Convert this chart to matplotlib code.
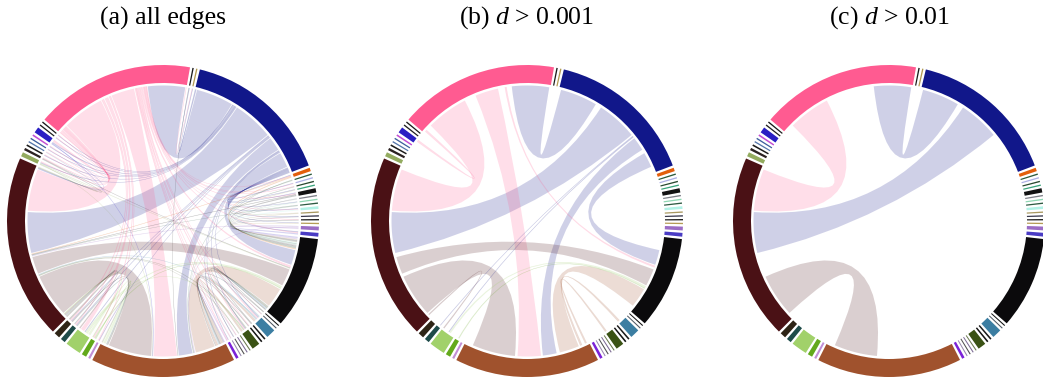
import numpy as np
import matplotlib
matplotlib.use("Agg")
import matplotlib.pyplot as plt
from matplotlib.colors import to_rgba
from matplotlib.patches import Wedge, PathPatch
from matplotlib.path import Path

plt.rcParams["mathtext.fontset"] = "custom"
plt.rcParams["mathtext.rm"] = "Liberation Serif"
plt.rcParams["mathtext.it"] = "Liberation Serif:italic"

# groups, counter-clockwise, beginning with the large black group
node_names = [
    "black",
    "r1", "r2", "r3", "r4", "r5", "r6", "r7", "r8",
    "r9", "r10", "r11", "r12", "r13", "r14", "r15", "r16",
    "navy", "t1", "t2", "pink",
    "l1", "l2", "l3", "l4", "l5", "l6", "l7", "l8", "l9",
    "maroon", "b1", "b2", "b3", "b4", "b5", "brown",
    "s1", "s2", "s3", "s4", "s5", "s6", "s7", "s8", "s9", "s10", "s11",
]
node_colors = [
    "#0b0a0c",
    "#4a3cc4", "#9b6dc5", "#b59c56", "#1a1a1a", "#3b3b4e", "#a89860", "#b2f2e6", "#2d5b42",
    "#8fd6b2", "#7e8088", "#121212", "#3aa57c", "#294a30", "#aeb0e6", "#2b5a3b", "#e35f0c",
    "#11178a", "#b39b52", "#1b1b1b", "#ff5b91",
    "#1a1a1a", "#202020", "#2a1fc3", "#c24fd4", "#3d5f9c", "#5676aa", "#1c1c1c", "#2b2222", "#93ab5f",
    "#4a1115", "#2e2416", "#1e4b49", "#a1d16a", "#63a91b", "#c18ed5", "#a0522d",
    "#7b22d8", "#9a8ab0", "#4e4e4e", "#7c6a94", "#6b7a4f", "#3a5214", "#141414", "#1a1a1a",
    "#3c7ea2", "#4f5862", "#151515",
]

# links: (source, target, flow, d); the ribbon takes the source colour
main_links = [
    ("navy", "pink", 16.5, 0.031),
    ("navy", "maroon", 18.0, 0.034),
    ("pink", "maroon", 18.5, 0.029),
    ("maroon", "brown", 19.0, 0.036),
    ("pink", "brown", 10.5, 0.0074),
    ("navy", "brown", 6.5, 0.0052),
    ("navy", "black", 7.0, 0.0061),
    ("brown", "black", 9.0, 0.0068),
    ("maroon", "black", 8.0, 0.0057),
    ("pink", "black", 1.0, 0.0016),
    ("navy", "b3", 0.4, 0.0014),
    ("navy", "b2", 0.3, 0.0012),
    ("pink", "l3", 1.2, 0.0021),
    ("b3", "black", 0.8, 0.0018),
    ("b4", "black", 0.5, 0.0013),
    ("maroon", "b3", 0.6, 0.0015),
    ("brown", "s9", 1.2, 0.0017),
    ("brown", "s6", 1.0, 0.0011),
]
right_links = [
    ("r1", "black", 0.6, 0.0006), ("navy", "r1", 0.4, 0.0004), ("pink", "r1", 0.4, 0.0003),
    ("r2", "black", 0.6, 0.0005), ("r2", "brown", 0.4, 0.0004), ("r2", "maroon", 0.4, 0.0003),
    ("r3", "black", 0.3, 0.0002), ("navy", "r3", 0.2, 0.0002),
    ("r4", "black", 0.3, 0.0003), ("pink", "r4", 0.2, 0.0001),
    ("r5", "black", 0.3, 0.0002), ("navy", "r5", 0.2, 0.0002),
    ("r6", "black", 0.25, 0.0002), ("r6", "r12", 0.25, 0.0001),
    ("r7", "black", 0.5, 0.0004), ("navy", "r7", 0.3, 0.0002), ("pink", "r7", 0.2, 0.0002),
    ("r8", "black", 0.3, 0.0002), ("r8", "maroon", 0.2, 0.0001),
    ("r9", "black", 0.3, 0.0002), ("navy", "r9", 0.2, 0.0001),
    ("r10", "black", 0.3, 0.0002), ("r10", "brown", 0.2, 0.0001),
    ("r11", "black", 0.6, 0.0005), ("pink", "r11", 0.4, 0.0003),
    ("navy", "r11", 0.3, 0.0002), ("r11", "maroon", 0.3, 0.0002),
    ("navy", "r12", 0.25, 0.0002),
    ("r13", "black", 0.3, 0.0002), ("pink", "r13", 0.2, 0.0001),
    ("navy", "r14", 0.3, 0.0002), ("pink", "r14", 0.2, 0.0001),
    ("r15", "black", 0.3, 0.0002), ("r15", "brown", 0.2, 0.0001),
    ("navy", "r16", 0.3, 0.0003), ("pink", "r16", 0.2, 0.0002),
    ("r16", "maroon", 0.3, 0.0002), ("r16", "black", 0.5, 0.0004),
]
top_links = [
    ("navy", "t1", 0.3, 0.0002), ("pink", "t1", 0.2, 0.0001),
    ("navy", "t2", 0.3, 0.0002), ("t2", "brown", 0.2, 0.0001),
]
left_links = [
    ("pink", "l1", 0.3, 0.0002), ("navy", "l1", 0.2, 0.0001),
    ("pink", "l2", 0.3, 0.0002), ("navy", "l2", 0.2, 0.0001),
    ("navy", "l3", 0.5, 0.0004), ("l3", "brown", 0.3, 0.0002), ("l3", "maroon", 0.2, 0.0001),
    ("pink", "l4", 0.3, 0.0002), ("navy", "l4", 0.3, 0.0002),
    ("pink", "l5", 0.3, 0.0002), ("navy", "l5", 0.2, 0.0001),
    ("pink", "l6", 0.3, 0.0002), ("l6", "maroon", 0.2, 0.0001),
    ("pink", "l7", 0.3, 0.0002), ("navy", "l7", 0.3, 0.0002),
    ("pink", "l8", 0.4, 0.0003), ("l8", "maroon", 0.3, 0.0002), ("l8", "black", 0.2, 0.0001),
    ("pink", "l9", 0.5, 0.0004), ("navy", "l9", 0.3, 0.0002), ("l9", "maroon", 0.3, 0.0002),
    ("l9", "brown", 0.2, 0.0001), ("l9", "black", 0.3, 0.0002),
]
lower_left_links = [
    ("b1", "maroon", 0.8, 0.0007), ("pink", "b1", 0.6, 0.0005),
    ("b1", "brown", 0.5, 0.0004), ("navy", "b1", 0.3, 0.0002),
    ("pink", "b2", 0.6, 0.0004), ("b2", "maroon", 0.4, 0.0003), ("b2", "brown", 0.5, 0.0003),
    ("pink", "b3", 2.2, 0.0009), ("b3", "brown", 1.5, 0.0008), ("b3", "s6", 0.4, 0.0002),
    ("pink", "b4", 0.6, 0.0004), ("b4", "brown", 0.4, 0.0003), ("b4", "maroon", 0.3, 0.0002),
    ("pink", "b5", 0.4, 0.0003), ("navy", "b5", 0.2, 0.0001), ("b5", "brown", 0.2, 0.0001),
]
lower_right_links = [
    ("pink", "s1", 0.5, 0.0004), ("navy", "s1", 0.3, 0.0002), ("s1", "brown", 0.2, 0.0001),
    ("pink", "s2", 0.2, 0.0001), ("s2", "brown", 0.2, 0.0001),
    ("s3", "black", 0.2, 0.0001), ("navy", "s3", 0.2, 0.0001),
    ("pink", "s4", 0.2, 0.0001), ("s4", "brown", 0.2, 0.0001),
    ("s5", "brown", 0.2, 0.0001), ("s5", "maroon", 0.2, 0.0001),
    ("pink", "s6", 0.5, 0.0004), ("s6", "black", 0.5, 0.0004),
    ("navy", "s6", 0.3, 0.0002), ("s6", "maroon", 0.3, 0.0002),
    ("s7", "brown", 0.3, 0.0002), ("pink", "s7", 0.3, 0.0002),
    ("s8", "black", 0.3, 0.0002), ("s8", "brown", 0.3, 0.0002),
    ("s9", "brown", 0.5, 0.0004), ("pink", "s9", 0.6, 0.0005), ("s9", "black", 0.6, 0.0005),
    ("navy", "s9", 0.3, 0.0002), ("s9", "maroon", 0.3, 0.0002),
    ("s10", "black", 0.2, 0.0001), ("pink", "s10", 0.2, 0.0001),
    ("s11", "black", 0.2, 0.0001), ("s11", "brown", 0.2, 0.0001),
]

titles = ["(a) all edges", "(b) $d$ > 0.001", "(c) $d$ > 0.01"]
thresholds = [0.0, 0.001, 0.01]

links = main_links + right_links + top_links + left_links + lower_left_links + lower_right_links

GAP = 0.9          # degrees between groups
START = 319.0      # angle where the first group begins
R_OUT, RING = 156, 18
R_CHORD = 135.5


def layout(names, links):
    idx = {n: i for i, n in enumerate(names)}
    totals = np.zeros(len(names))
    for s, t, w, _ in links:
        totals[idx[s]] += w
        totals[idx[t]] += w
    scale = (360 - GAP * len(names)) / totals.sum()
    spans = totals * scale
    starts = START + np.concatenate([[0], np.cumsum(spans + GAP)[:-1]])
    centers = starts + spans / 2

    # stack link ends on each group, ordered so ribbons do not cross
    ends = {}
    for i in range(len(names)):
        items = []
        for k, (s, t, w, _) in enumerate(links):
            if idx[s] == i:
                items.append((k, 0, idx[t], w))
            if idx[t] == i:
                items.append((k, 1, idx[s], w))
        items.sort(key=lambda it: -((centers[it[2]] - centers[i]) % 360))
        pos = starts[i]
        for k, side, _, w in items:
            ends[(k, side)] = (pos, pos + w * scale)
            pos += w * scale
    return idx, starts, spans, ends


def arc(cx, cy, r, a0, a1, n=24):
    th = np.radians(np.linspace(a0, a1, n))
    return np.column_stack([cx + r * np.cos(th), cy + r * np.sin(th)])


def ribbon(cx, cy, s, t):
    sa = arc(cx, cy, R_CHORD, *s)
    ta = arc(cx, cy, R_CHORD, *t)
    verts = list(sa) + [(cx, cy), ta[0]] + list(ta[1:]) + [(cx, cy), sa[0], sa[0]]
    codes = ([Path.MOVETO] + [Path.LINETO] * (len(sa) - 1)
             + [Path.CURVE3, Path.CURVE3] + [Path.LINETO] * (len(ta) - 1)
             + [Path.CURVE3, Path.CURVE3, Path.CLOSEPOLY])
    return Path(verts, codes)


def shrink(a0, a1):
    pad = min(0.3, 0.15 * (a1 - a0))
    return a0 + pad, a1 - pad


def draw_panel(ax, cx, cy, title, threshold, idx, starts, spans, ends):
    for k, (s, t, w, d) in enumerate(links):
        if d <= threshold:
            continue
        color = node_colors[idx[s]]
        path = ribbon(cx, cy, shrink(*ends[(k, 0)]), shrink(*ends[(k, 1)]))
        thin = w < 1.5
        ax.add_patch(PathPatch(path, facecolor=to_rgba(color, 0.2),
                               edgecolor=to_rgba(color, 0.1) if thin else "none",
                               lw=0.3 if thin else 0))
    for a0, sp, c in zip(starts, spans, node_colors):
        ax.add_patch(Wedge((cx, cy), R_OUT, a0, a0 + sp, width=RING,
                           facecolor=c, edgecolor="none"))
    ax.text(cx, 365, title, ha="center", va="center", fontsize=18.5,
            family="Liberation Serif")


fig = plt.figure(figsize=(10.43, 3.83), dpi=100)
ax = fig.add_axes([0, 0, 1, 1])
ax.set_xlim(0, 1043)
ax.set_ylim(0, 383)
ax.set_aspect("equal")
ax.axis("off")

idx, starts, spans, ends = layout(node_names, links)
for cx, title, thr in zip([163, 527, 889], titles, thresholds):
    draw_panel(ax, cx, 162, title, thr, idx, starts, spans, ends)

fig.savefig("out.png", dpi=100)
